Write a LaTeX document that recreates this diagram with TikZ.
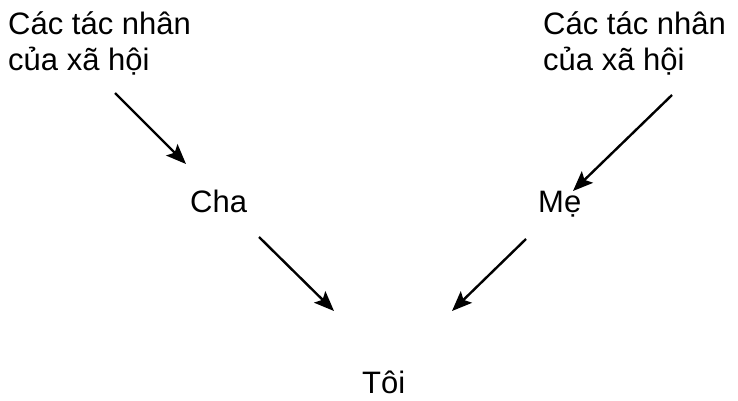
\documentclass[tikz,border=0pt]{standalone}
\usepackage{fontspec}
\setmainfont{Liberation Sans}
\usetikzlibrary{arrows.meta}

\tikzset{
	nhan/.style={inner sep=0pt, font=\fontsize{31}{36}\selectfont},
	muiten/.style={line width=2.4pt, -{Stealth[length=20pt,width=16pt,inset=4pt]}}
}

\begin{document}
\begin{tikzpicture}[x=1pt,y=-1pt]
	\useasboundingbox (0,0) rectangle (738,401);
	\node[nhan,align=left,anchor=base west] (xahoiA) at (8,71) {Các tác nhân\\của xã hội};
	\node[nhan,align=left,anchor=base west] (xahoiB) at (543,71) {Các tác nhân\\của xã hội};
	\node[nhan,anchor=base west] (cha) at (190,212) {Cha};
	\node[nhan,anchor=base west] (me) at (538,212) {Mẹ};
	\node[nhan,anchor=base west] (toi) at (362,393) {Tôi};
	
	\coordinate (dauA) at (115,93);
	\coordinate (cuoiA) at (186,164);
	\coordinate (dauB) at (672,95);
	\coordinate (cuoiB) at (573,191);
	\coordinate (dauC) at (259,237);
	\coordinate (cuoiC) at (334,311);
	\coordinate (dauD) at (526,239);
	\coordinate (cuoiD) at (452,311);
	
	\draw [muiten] (dauA) -- (cuoiA);
	\draw [muiten] (dauB) -- (cuoiB);
	\draw [muiten] (dauC) -- (cuoiC);
	\draw [muiten] (dauD) -- (cuoiD);
\end{tikzpicture}
\end{document}
